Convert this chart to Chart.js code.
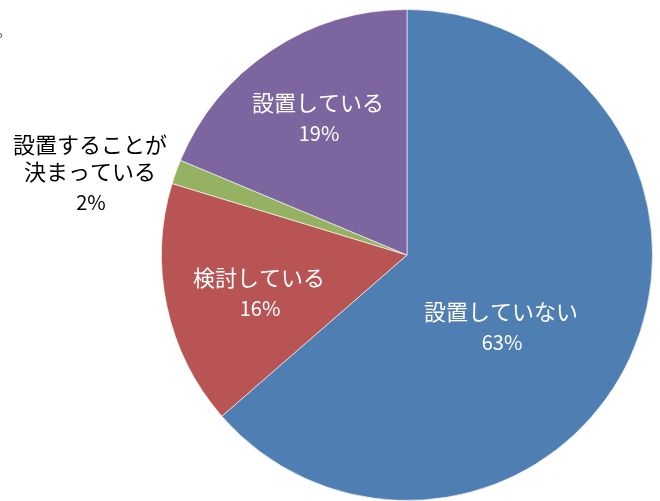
<!DOCTYPE html>
<html>
<head>
<meta charset="utf-8">
<script src="https://cdn.jsdelivr.net/npm/chart.js@4"></script>
<style>
  html, body { margin: 0; padding: 0; background: #fff; }
  #wrap { width: 660px; height: 501px; position: relative; }
</style>
</head>
<body>
<div id="wrap"><canvas id="chartSetchi"></canvas></div>
<script>
const categories = ['設置していない', '検討している', '設置することが決まっている', '設置している'];
const values = [63.6, 16.1, 1.6, 18.7];
const percentLabels = ['63%', '16%', '2%', '19%'];
const colors = ['#4f7eb3', '#b95455', '#94b261', '#7d65a0'];

// label anchors (line 1 center) and text color per slice
const labelLines = [['設置していない'], ['検討している'], ['設置することが', '決まっている'], ['設置している']];
const labelPos = [[501, 312], [259, 278], [90, 145], [318, 103]];
const labelColor = ['#fff', '#fff', '#000', '#fff'];

const FONT = "'Noto Sans CJK JP', 'Noto Sans', sans-serif";

const pieLabels = {
   id: 'pieLabels',
   afterDatasetsDraw(chart) {
      const ctx = chart.ctx;
      const data = chart.data.datasets[0].data;
      ctx.save();
      ctx.textAlign = 'center';
      ctx.textBaseline = 'middle';
      data.forEach((v, i) => {
         const [x, y] = labelPos[i];
         ctx.fillStyle = labelColor[i];
         const lines = labelLines[i];
         ctx.font = `22px ${FONT}`;
         lines.forEach((t, k) => ctx.fillText(t, x, y + k * 27));
         ctx.font = `20px ${FONT}`;
         ctx.fillText(percentLabels[i], x + 1, y + (lines.length - 1) * 27 + 30);
      });
      // stray mark at top-left edge
      ctx.fillStyle = '#555';
      ctx.font = `18px ${FONT}`;
      ctx.textAlign = 'left';
      ctx.textBaseline = 'alphabetic';
      ctx.fillText('。', -4, 37);
      ctx.restore();
   }
};

const ctx = document.getElementById('chartSetchi').getContext('2d');
new Chart(ctx, {
   type: 'pie',
   data: {
      labels: categories,
      datasets: [{
         data: values,
         backgroundColor: colors,
         borderColor: 'rgba(255,255,255,0.6)',
         borderWidth: 1,
      }]
   },
   options: {
      responsive: true,
      maintainAspectRatio: false,
      animation: false,
      layout: {
         padding: { left: 161, right: 7, top: 9, bottom: 0 }
      },
      plugins: {
         legend: { display: false },
         tooltip: { enabled: false },
      }
   },
   plugins: [pieLabels]
});
</script>
</body>
</html>
